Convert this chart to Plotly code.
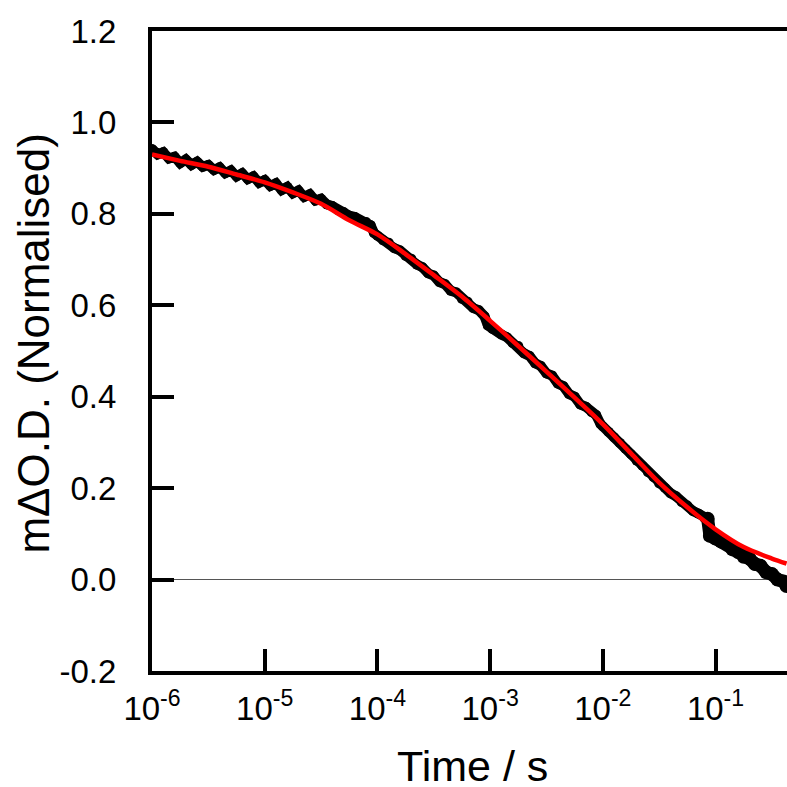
import plotly.graph_objects as go

# ---- data (log10 of time in s, normalised mΔO.D.) ----
data_logt = [-6.00, -5.95, -5.90, -5.85, -5.80, -5.75, -5.70, -5.65, -5.60, -5.55,
             -5.50, -5.45, -5.40, -5.35, -5.30, -5.25, -5.20, -5.15, -5.10, -5.05,
             -5.00, -4.95, -4.90, -4.85, -4.80, -4.75, -4.70, -4.65, -4.60, -4.55,
             -4.50, -4.45, -4.40, -4.35, -4.30, -4.25, -4.20, -4.15, -4.10, -4.06,
             -4.03, -4.00, -3.95, -3.90, -3.85, -3.80, -3.75, -3.70, -3.65, -3.60,
             -3.55, -3.50, -3.45, -3.40, -3.35, -3.30, -3.25, -3.20, -3.15, -3.10,
             -3.05, -3.02, -2.98, -2.95, -2.90, -2.85, -2.80, -2.75, -2.70, -2.65,
             -2.60, -2.55, -2.50, -2.45, -2.40, -2.35, -2.30, -2.25, -2.20, -2.15,
             -2.10, -2.06, -2.02, -2.00, -1.95, -1.90, -1.85, -1.80, -1.75, -1.70,
             -1.65, -1.60, -1.55, -1.50, -1.45, -1.40, -1.35, -1.30, -1.25, -1.20,
             -1.15, -1.10, -1.07]
data_od = [0.942, 0.930, 0.935, 0.921, 0.925, 0.911, 0.919, 0.907, 0.914, 0.903,
           0.907, 0.896, 0.902, 0.889, 0.895, 0.882, 0.889, 0.876, 0.882, 0.868,
           0.874, 0.861, 0.867, 0.852, 0.859, 0.845, 0.851, 0.837, 0.843, 0.829,
           0.833, 0.821, 0.817, 0.808, 0.804, 0.796, 0.793, 0.785, 0.782, 0.775,
           0.758, 0.752, 0.742, 0.737, 0.725, 0.720, 0.708, 0.702, 0.689, 0.683,
           0.670, 0.665, 0.651, 0.646, 0.632, 0.628, 0.614, 0.608, 0.594, 0.589,
           0.576, 0.556, 0.548, 0.545, 0.536, 0.530, 0.517, 0.511, 0.495, 0.489,
           0.473, 0.467, 0.451, 0.446, 0.429, 0.423, 0.406, 0.400, 0.383, 0.378,
           0.366, 0.360, 0.340, 0.335, 0.323, 0.311, 0.299, 0.286, 0.274, 0.260,
           0.249, 0.235, 0.224, 0.210, 0.201, 0.189, 0.182, 0.169, 0.162, 0.150,
           0.144, 0.135, 0.133]

# late-time segment (after the step near 0.1 s), noisier
tail_logt = [-1.07, -1.05, -1.00, -0.95, -0.90, -0.85, -0.80, -0.75, -0.70, -0.65,
             -0.60, -0.55, -0.50, -0.45, -0.40, -0.37]
tail_od = [0.133, 0.096, 0.090, 0.083, 0.078, 0.066, 0.060, 0.050, 0.046, 0.034,
           0.030, 0.016, 0.012, 0.000, -0.004, -0.014]

fit_logt = [-6.0, -5.75, -5.5, -5.25, -5.0, -4.75, -4.5, -4.25, -4.0, -3.75,
            -3.5, -3.25, -3.0, -2.75, -2.5, -2.25, -2.0, -1.75, -1.5, -1.25,
            -1.0, -0.75, -0.5, -0.37]
fit_od = [0.930, 0.916, 0.903, 0.886, 0.869, 0.847, 0.822, 0.786, 0.755, 0.712,
          0.666, 0.619, 0.566, 0.511, 0.455, 0.398, 0.340, 0.276, 0.212, 0.158,
          0.110, 0.071, 0.046, 0.035]

x_tick_exp = [-6, -5, -4, -3, -2, -1]
x_tick_text = ["10<sup>%d</sup>" % e for e in x_tick_exp]
y_ticks = [-0.2, 0.0, 0.2, 0.4, 0.6, 0.8, 1.0, 1.2]
y_tick_text = ["-0.2", "0.0", "0.2", "0.4", "0.6", "0.8", "1.0", "1.2"]
x_title = "Time / s"
y_title = "mΔO.D. (Normalised)"

font_family = "Liberation Sans, Arial, sans-serif"

fig = go.Figure()
fig.add_trace(go.Scatter(
    x=[10 ** v for v in data_logt], y=data_od, mode="lines+markers",
    line=dict(color="black", width=10),
    marker=dict(color="black", size=10),
    showlegend=False))
fig.add_trace(go.Scatter(
    x=[10 ** v for v in tail_logt], y=tail_od, mode="lines+markers",
    line=dict(color="black", width=13),
    marker=dict(color="black", size=14),
    showlegend=False))
fig.add_trace(go.Scatter(
    x=[10 ** v for v in fit_logt], y=fit_od, mode="lines",
    line=dict(color="#ff0000", width=4.5, shape="spline", smoothing=0.8),
    showlegend=False))

fig.update_layout(
    width=787, height=787,
    margin=dict(l=152, r=0, t=31, b=116),
    paper_bgcolor="white", plot_bgcolor="white",
    font=dict(family=font_family, color="black", size=33),
    annotations=[
        dict(text=x_title, xref="paper", yref="paper", x=0.5055, y=-0.149,
             xanchor="center", yanchor="middle", showarrow=False,
             font=dict(size=43)),
        dict(text=y_title, xref="paper", yref="paper", x=-0.186, y=0.513,
             xanchor="center", yanchor="middle", showarrow=False,
             textangle=-90, font=dict(size=44)),
    ],
)
fig.update_xaxes(
    type="log", range=[-6, -0.366],
    tickvals=[10 ** e for e in x_tick_exp], ticktext=x_tick_text,
    ticks="inside", ticklen=22, tickwidth=4, tickcolor="black",
    showline=True, linewidth=4, linecolor="black", mirror=True,
    showgrid=False, zeroline=False,
    tickfont=dict(size=33), ticklabelstandoff=5,
)
fig.update_yaxes(
    range=[-0.2, 1.2],
    tickvals=y_ticks, ticktext=y_tick_text,
    ticks="inside", ticklen=22, tickwidth=4, tickcolor="black",
    showline=True, linewidth=4, linecolor="black", mirror=False,
    showgrid=False,
    zeroline=True, zerolinecolor="#555555", zerolinewidth=1.2,
    tickfont=dict(size=33), ticklabelstandoff=25,
)

fig.write_html(
    "out.html",
    config={"displayModeBar": False},
    post_script="document.body.style.margin='0';document.body.style.overflow='hidden';",
)
